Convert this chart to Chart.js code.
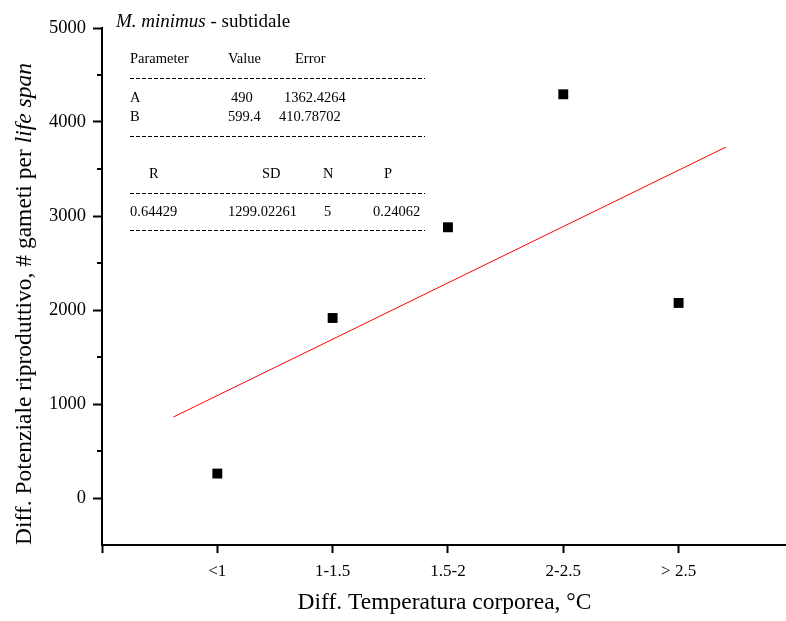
<!DOCTYPE html>
<html>
<head>
<meta charset="utf-8">
<script src="https://cdn.jsdelivr.net/npm/chart.js@4"></script>
<style>
    body { margin: 0; background: #fff; overflow: hidden; }
    /* a bit wider than the window: the plot's right side runs off the edge as in the original */
    #wrap { width: 794px; height: 621px; }
</style>
</head>
<body>
<div id="wrap"><canvas id="chart"></canvas></div>
<script>
// categories on the x axis (positions 1..5)
const categories = ['<1', '1-1.5', '1.5-2', '2-2.5', '> 2.5'];
const categoryPos = [1, 2, 3, 4, 5];
// differences in reproductive potential
const gametes = [260, 1915, 2880, 4295, 2075];
// linear fit, as drawn (start and end of the red line)
const fitX = [0.62, 5.41];
const fitY = [862, 3733];
// y tick labels
const yTicks = [0, 1000, 2000, 3000, 4000, 5000];

// fit statistics shown in the inset
const paramHead = ['Parameter', 'Value', 'Error'];
const paramRows = [['A', '490', '1362.4264'], ['B', '599.4', '410.78702']];
const statHead = ['R', 'SD', 'N', 'P'];
const statRow = ['0.64429', '1299.02261', '5', '0.24062'];

const FONT = '"Liberation Serif", "Times New Roman", serif';

// draws the inset text, the mixed-italic title and y title, minor ticks
const decorations = {
    id: 'decorations',
    afterDraw(chart) {
        const ctx = chart.ctx;
        const a = chart.chartArea;
        const ys = chart.scales.y;
        ctx.save();

        // minor y ticks
        ctx.strokeStyle = '#000';
        ctx.lineWidth = 2;
        for (let v = 500; v <= 5000; v += 1000) {
            const py = Math.round(ys.getPixelForValue(v));
            ctx.beginPath();
            ctx.moveTo(a.left - 5, py);
            ctx.lineTo(a.left, py);
            ctx.stroke();
        }

        // title: M. minimus - subtidale
        ctx.fillStyle = '#000';
        ctx.textBaseline = 'alphabetic';
        ctx.textAlign = 'left';
        let x = a.left + 14;
        ctx.font = 'italic 19px ' + FONT;
        ctx.fillText('M. minimus', x, 27);
        x += ctx.measureText('M. minimus').width;
        ctx.font = '19px ' + FONT;
        ctx.fillText(' - subtidale', x, 27);

        // inset table
        const L = a.left + 28;
        ctx.font = '14.5px ' + FONT;
        const headX = [0, 98, 165];
        paramHead.forEach(function(t, i) { ctx.fillText(t, L + headX[i], 63); });
        const rowX = [[0, 101, 154], [0, 98, 149]];
        paramRows.forEach(function(r, i) {
            const yy = 102 + i * 19;
            r.forEach(function(t, j) { ctx.fillText(t, L + rowX[i][j], yy); });
        });
        const statHeadX = [19, 132, 193, 254];
        statHead.forEach(function(t, i) { ctx.fillText(t, L + statHeadX[i], 178); });
        const statRowX = [0, 98, 194, 243];
        statRow.forEach(function(t, i) { ctx.fillText(t, L + statRowX[i], 216); });

        ctx.strokeStyle = '#000';
        ctx.lineWidth = 1;
        ctx.setLineDash([4, 2]);
        [78, 136, 193, 230].forEach(function(yy) {
            ctx.beginPath();
            ctx.moveTo(L, yy + 0.5);
            ctx.lineTo(L + 295, yy + 0.5);
            ctx.stroke();
        });
        ctx.setLineDash([]);

        // y axis title with italic "life span"
        const part1 = 'Diff. Potenziale riproduttivo, # gameti per ';
        const part2 = 'life span';
        ctx.textBaseline = 'middle';
        ctx.font = '23.5px ' + FONT;
        const w1 = ctx.measureText(part1).width;
        ctx.font = 'italic 23.5px ' + FONT;
        const w2 = ctx.measureText(part2).width;
        ctx.translate(25, 304);
        ctx.rotate(-Math.PI / 2);
        ctx.font = '23.5px ' + FONT;
        ctx.fillText(part1, -(w1 + w2) / 2, 0);
        ctx.font = 'italic 23.5px ' + FONT;
        ctx.fillText(part2, -(w1 + w2) / 2 + w1, 0);
        ctx.restore();
    }
};

const ctx = document.getElementById('chart').getContext('2d');
new Chart(ctx, {
    type: 'scatter',
    data: {
        datasets: [
            {
                label: 'fit',
                type: 'line',
                data: fitX.map(function(v, i) { return { x: v, y: fitY[i] }; }),
                borderColor: '#ff0000',
                borderWidth: 1,
                pointRadius: 0,
                fill: false,
                order: 2
            },
            {
                label: 'data',
                data: categoryPos.map(function(v, i) { return { x: v, y: gametes[i] }; }),
                backgroundColor: '#000',
                borderColor: '#000',
                pointStyle: 'rect',
                pointRadius: 7,
                pointHoverRadius: 7,
                borderWidth: 0,
                order: 1
            }
        ]
    },
    options: {
        responsive: true,
        maintainAspectRatio: false,
        animation: false,
        layout: { padding: { top: 28, right: 0, left: 0, bottom: 0 } },
        plugins: {
            legend: { display: false },
            tooltip: { enabled: false }
        },
        scales: {
            x: {
                type: 'linear',
                min: 0,
                max: 5.94,
                afterBuildTicks: function(scale) {
                    scale.ticks = [0].concat(categoryPos).map(function(v) { return { value: v }; });
                },
                afterFit: function(scale) {
                    scale.height = 76;
                    scale.paddingLeft = 0;
                    scale.paddingRight = 0;
                },
                grid: {
                    drawOnChartArea: false,
                    drawTicks: true,
                    tickLength: 8,
                    tickWidth: 2,
                    tickColor: '#000'
                },
                border: { display: true, color: '#000', width: 2 },
                ticks: {
                    color: '#000',
                    font: { family: FONT, size: 17 },
                    padding: 8,
                    maxRotation: 0,
                    autoSkip: false,
                    callback: function(v) {
                        const i = categoryPos.indexOf(v);
                        return i >= 0 ? categories[i] : '';
                    }
                },
                title: {
                    display: true,
                    text: 'Diff. Temperatura corporea, °C',
                    color: '#000',
                    font: { family: FONT, size: 23.5 },
                    padding: { top: 12 }
                }
            },
            y: {
                min: -500,
                max: 5000,
                afterBuildTicks: function(scale) {
                    scale.ticks = yTicks.map(function(v) { return { value: v }; });
                },
                afterFit: function(scale) { scale.width = 102; },
                grid: {
                    drawOnChartArea: false,
                    drawTicks: true,
                    tickLength: 9,
                    tickWidth: 2,
                    tickColor: '#000'
                },
                border: { display: true, color: '#000', width: 2 },
                ticks: {
                    color: '#000',
                    font: { family: FONT, size: 18.5 },
                    padding: 7,
                    callback: function(v) { return String(v); }
                }
            }
        }
    },
    plugins: [decorations]
});
</script>
</body>
</html>
